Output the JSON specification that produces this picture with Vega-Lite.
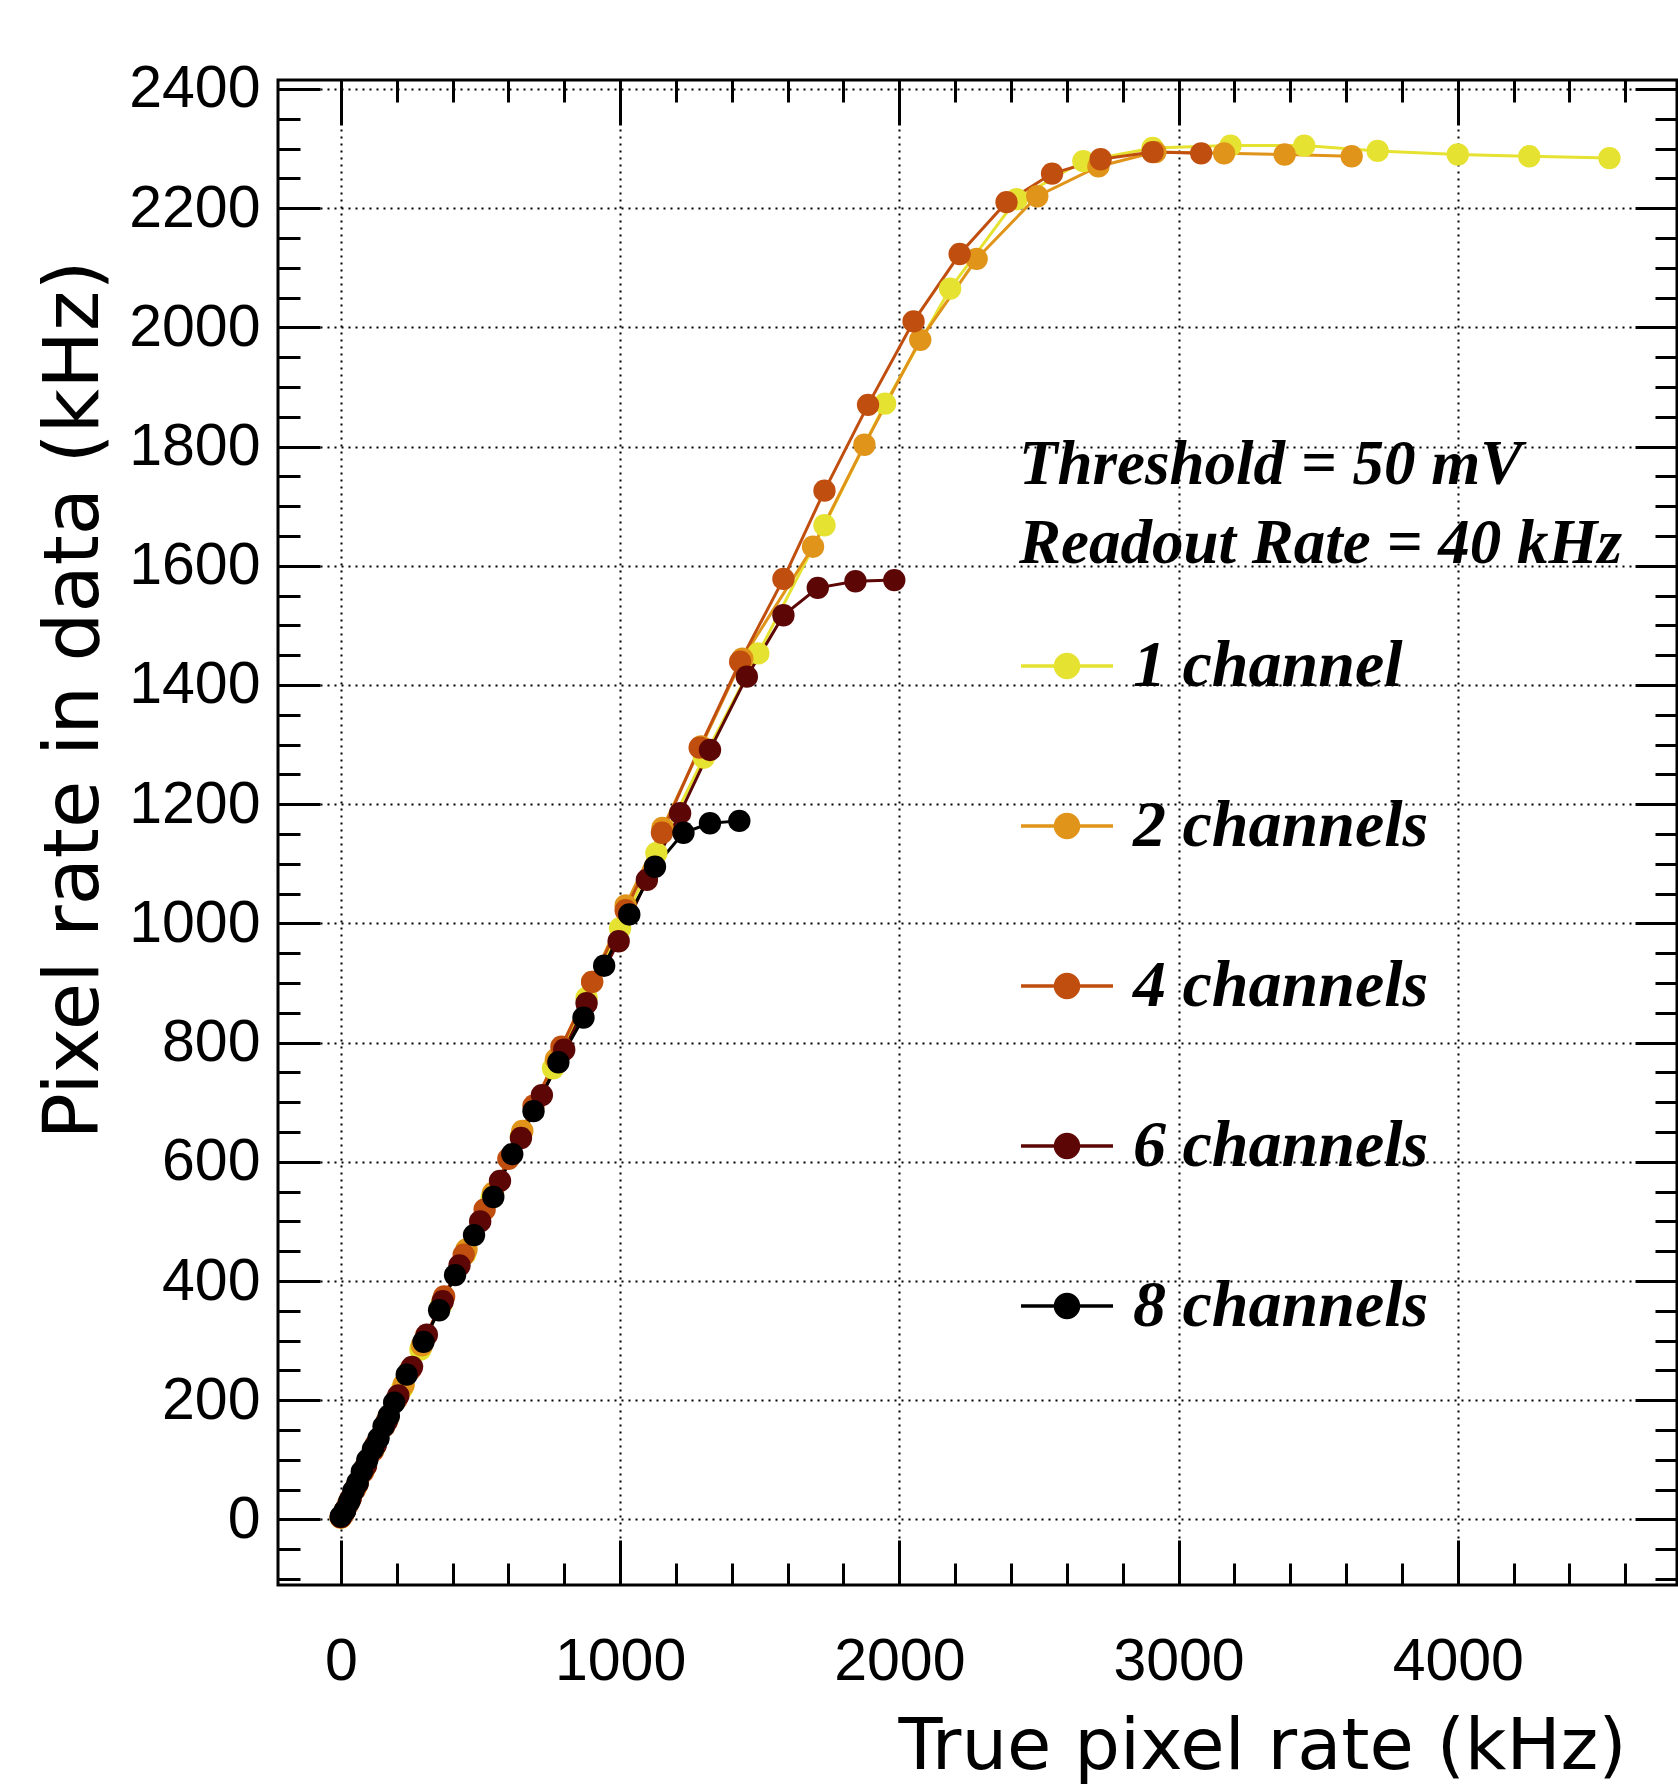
{
  "$schema": "https://vega.github.io/schema/vega-lite/v6.json",
  "autosize": {"type": "none"},
  "padding": {"left": 278, "top": 80, "right": 1, "bottom": 202},
  "width": 1399,
  "height": 1505,
  "background": "white",
  "config": {
    "view": {"stroke": "black", "strokeWidth": 3},
    "axis": {"labelFont": "Liberation Sans", "labelFontSize": 59, "labelColor": "black", "titleFont": "DejaVu Sans", "titleFontWeight": "normal", "titleColor": "black", "tickColor": "black", "tickWidth": 3, "domain": false, "labelOverlap": false, "labelFlush": false, "format": "d"}
  },
  "data": {"values": [
    {"s":"1 channel","x":0,"y":3},{"s":"1 channel","x":12,"y":12},{"s":"1 channel","x":30,"y":30},{"s":"1 channel","x":55,"y":55},{"s":"1 channel","x":85,"y":85},{"s":"1 channel","x":120,"y":120},{"s":"1 channel","x":165,"y":165},{"s":"1 channel","x":220,"y":220},{"s":"1 channel","x":285,"y":285},{"s":"1 channel","x":360,"y":360},{"s":"1 channel","x":445,"y":445},{"s":"1 channel","x":540,"y":540},{"s":"1 channel","x":645,"y":643},{"s":"1 channel","x":760,"y":757},{"s":"1 channel","x":880,"y":875},{"s":"1 channel","x":1000,"y":992},{"s":"1 channel","x":1130,"y":1118},{"s":"1 channel","x":1300,"y":1278},{"s":"1 channel","x":1495,"y":1453},{"s":"1 channel","x":1732,"y":1668},{"s":"1 channel","x":1949,"y":1872},{"s":"1 channel","x":2182,"y":2065},{"s":"1 channel","x":2420,"y":2215},{"s":"1 channel","x":2659,"y":2279},{"s":"1 channel","x":2907,"y":2301},{"s":"1 channel","x":3186,"y":2305},{"s":"1 channel","x":3450,"y":2305},{"s":"1 channel","x":3713,"y":2296},{"s":"1 channel","x":4000,"y":2290},{"s":"1 channel","x":4256,"y":2287},{"s":"1 channel","x":4543,"y":2284},
    {"s":"2 channels","x":0,"y":3},{"s":"2 channels","x":15,"y":15},{"s":"2 channels","x":35,"y":35},{"s":"2 channels","x":60,"y":60},{"s":"2 channels","x":90,"y":90},{"s":"2 channels","x":125,"y":126},{"s":"2 channels","x":170,"y":171},{"s":"2 channels","x":225,"y":226},{"s":"2 channels","x":290,"y":292},{"s":"2 channels","x":365,"y":368},{"s":"2 channels","x":450,"y":453},{"s":"2 channels","x":545,"y":548},{"s":"2 channels","x":650,"y":652},{"s":"2 channels","x":770,"y":772},{"s":"2 channels","x":900,"y":902},{"s":"2 channels","x":1020,"y":1030},{"s":"2 channels","x":1152,"y":1160},{"s":"2 channels","x":1290,"y":1297},{"s":"2 channels","x":1438,"y":1444},{"s":"2 channels","x":1691,"y":1632},{"s":"2 channels","x":1875,"y":1803},{"s":"2 channels","x":2075,"y":1979},{"s":"2 channels","x":2277,"y":2115},{"s":"2 channels","x":2494,"y":2220},{"s":"2 channels","x":2713,"y":2270},{"s":"2 channels","x":2917,"y":2294},{"s":"2 channels","x":3163,"y":2292},{"s":"2 channels","x":3380,"y":2290},{"s":"2 channels","x":3620,"y":2287},
    {"s":"4 channels","x":0,"y":4},{"s":"4 channels","x":8,"y":8},{"s":"4 channels","x":25,"y":25},{"s":"4 channels","x":50,"y":50},{"s":"4 channels","x":80,"y":80},{"s":"4 channels","x":115,"y":115},{"s":"4 channels","x":155,"y":156},{"s":"4 channels","x":200,"y":202},{"s":"4 channels","x":250,"y":252},{"s":"4 channels","x":305,"y":308},{"s":"4 channels","x":370,"y":374},{"s":"4 channels","x":440,"y":444},{"s":"4 channels","x":515,"y":520},{"s":"4 channels","x":600,"y":605},{"s":"4 channels","x":690,"y":694},{"s":"4 channels","x":790,"y":793},{"s":"4 channels","x":900,"y":902},{"s":"4 channels","x":1020,"y":1022},{"s":"4 channels","x":1150,"y":1152},{"s":"4 channels","x":1285,"y":1295},{"s":"4 channels","x":1430,"y":1439},{"s":"4 channels","x":1585,"y":1578},{"s":"4 channels","x":1732,"y":1726},{"s":"4 channels","x":1888,"y":1870},{"s":"4 channels","x":2051,"y":2010},{"s":"4 channels","x":2216,"y":2123},{"s":"4 channels","x":2384,"y":2210},{"s":"4 channels","x":2547,"y":2258},{"s":"4 channels","x":2721,"y":2282},{"s":"4 channels","x":2907,"y":2294},{"s":"4 channels","x":3081,"y":2292},
    {"s":"6 channels","x":0,"y":4},{"s":"6 channels","x":15,"y":15},{"s":"6 channels","x":35,"y":35},{"s":"6 channels","x":60,"y":60},{"s":"6 channels","x":90,"y":90},{"s":"6 channels","x":125,"y":125},{"s":"6 channels","x":165,"y":165},{"s":"6 channels","x":206,"y":208},{"s":"6 channels","x":255,"y":256},{"s":"6 channels","x":308,"y":310},{"s":"6 channels","x":365,"y":366},{"s":"6 channels","x":425,"y":426},{"s":"6 channels","x":499,"y":500},{"s":"6 channels","x":570,"y":568},{"s":"6 channels","x":645,"y":640},{"s":"6 channels","x":720,"y":712},{"s":"6 channels","x":800,"y":788},{"s":"6 channels","x":880,"y":866},{"s":"6 channels","x":995,"y":970},{"s":"6 channels","x":1096,"y":1073},{"s":"6 channels","x":1215,"y":1185},{"s":"6 channels","x":1322,"y":1291},{"s":"6 channels","x":1454,"y":1414},{"s":"6 channels","x":1585,"y":1517},{"s":"6 channels","x":1708,"y":1563},{"s":"6 channels","x":1843,"y":1574},{"s":"6 channels","x":1982,"y":1576},
    {"s":"8 channels","x":0,"y":5},{"s":"8 channels","x":15,"y":15},{"s":"8 channels","x":30,"y":30},{"s":"8 channels","x":45,"y":48},{"s":"8 channels","x":60,"y":62},{"s":"8 channels","x":75,"y":80},{"s":"8 channels","x":95,"y":100},{"s":"8 channels","x":115,"y":118},{"s":"8 channels","x":135,"y":136},{"s":"8 channels","x":153,"y":156},{"s":"8 channels","x":172,"y":174},{"s":"8 channels","x":191,"y":196},{"s":"8 channels","x":236,"y":243},{"s":"8 channels","x":296,"y":298},{"s":"8 channels","x":352,"y":351},{"s":"8 channels","x":409,"y":410},{"s":"8 channels","x":477,"y":477},{"s":"8 channels","x":546,"y":541},{"s":"8 channels","x":614,"y":613},{"s":"8 channels","x":690,"y":685},{"s":"8 channels","x":779,"y":767},{"s":"8 channels","x":869,"y":842},{"s":"8 channels","x":943,"y":929},{"s":"8 channels","x":1033,"y":1015},{"s":"8 channels","x":1125,"y":1095},{"s":"8 channels","x":1227,"y":1152},{"s":"8 channels","x":1322,"y":1168},{"s":"8 channels","x":1427,"y":1172}
  ]},
  "resolve": {"axis": {"x": "independent", "y": "independent"}},
  "layer": [
    {
      "mark": {"type": "line", "strokeWidth": 3},
      "encoding": {
        "x": {"field": "x", "type": "quantitative", "scale": {"domain": [-225, 4785], "nice": false, "zero": false},
          "axis": {"orient": "bottom", "values": [0, 1000, 2000, 3000, 4000], "tickSize": -45, "grid": true, "gridDash": [2, 5], "gridColor": "#000", "gridWidth": 2, "labelPadding": 92, "title": "True pixel rate (kHz)", "titleFontSize": 72, "titleX": 1348, "titleY": 183, "titleAlign": "right", "titleBaseline": "alphabetic"}},
        "y": {"field": "y", "type": "quantitative", "scale": {"domain": [-110, 2415], "nice": false, "zero": false},
          "axis": {"orient": "left", "values": [0, 200, 400, 600, 800, 1000, 1200, 1400, 1600, 1800, 2000, 2200, 2400], "tickSize": -42, "grid": true, "gridDash": [2, 5], "gridColor": "#000", "gridWidth": 2, "labelPadding": 60, "title": "Pixel rate in data (kHz)", "titleFontSize": 77, "titleAngle": 270, "titleX": -181, "titleY": 180, "titleAlign": "right", "titleBaseline": "alphabetic"}},
        "color": {"field": "s", "type": "nominal",
          "scale": {"domain": ["1 channel", "2 channels", "4 channels", "6 channels", "8 channels"], "range": ["#E6E232", "#E09419", "#C04E0E", "#5C0606", "#000000"]},
          "legend": {"orient": "none", "legendX": 741, "legendY": 354, "padding": 0, "offset": 0,
            "title": ["Threshold = 50 mV", "Readout Rate = 40 kHz"],
            "titleFont": "Liberation Serif", "titleFontStyle": "italic", "titleFontWeight": "bold", "titleFontSize": 63, "titleLineHeight": 79, "titleColor": "black", "titleLimit": 2000, "titlePadding": 42, "titleAlign": "left",
            "labelFont": "Liberation Serif", "labelFontStyle": "italic", "labelFontWeight": "bold", "labelFontSize": 66, "labelColor": "black", "labelLimit": 2000, "labelOffset": 18,
            "rowPadding": 79, "symbolSize": 8464, "symbolStrokeWidth": 3.5,
            "symbolType": "M-1,0L1,0M0.25,0A0.25,0.25,0,1,1,-0.25,0A0.25,0.25,0,1,1,0.25,0Z",
            "encode": {"symbols": {"update": {"fill": {"scale": "color", "field": "value"}, "stroke": {"scale": "color", "field": "value"}, "fillOpacity": {"value": 1}, "strokeOpacity": {"value": 1}, "opacity": {"value": 1}}}}}
        }
      }
    },
    {
      "mark": {"type": "point", "filled": true, "size": 500, "opacity": 1},
      "encoding": {
        "x": {"field": "x", "type": "quantitative", "scale": {"domain": [-225, 4785], "nice": false, "zero": false},
          "axis": {"orient": "top", "values": [0, 1000, 2000, 3000, 4000], "tickSize": -45, "grid": false, "labels": false, "title": null}},
        "y": {"field": "y", "type": "quantitative", "scale": {"domain": [-110, 2415], "nice": false, "zero": false},
          "axis": {"orient": "right", "values": [0, 200, 400, 600, 800, 1000, 1200, 1400, 1600, 1800, 2000, 2200, 2400], "tickSize": -42, "grid": false, "labels": false, "title": null}},
        "color": {"field": "s", "type": "nominal", "legend": null}
      }
    },
    {
      "mark": {"type": "point", "opacity": 0},
      "encoding": {
        "x": {"field": "x", "type": "quantitative", "scale": {"domain": [-225, 4785], "nice": false, "zero": false},
          "axis": {"orient": "bottom", "values": [200, 400, 600, 800, 1200, 1400, 1600, 1800, 2200, 2400, 2600, 2800, 3200, 3400, 3600, 3800, 4200, 4400, 4600], "tickSize": -22, "grid": false, "labels": false, "title": null}},
        "y": {"field": "y", "type": "quantitative", "scale": {"domain": [-110, 2415], "nice": false, "zero": false},
          "axis": {"orient": "left", "values": [-100, -50, 50, 100, 150, 250, 300, 350, 450, 500, 550, 650, 700, 750, 850, 900, 950, 1050, 1100, 1150, 1250, 1300, 1350, 1450, 1500, 1550, 1650, 1700, 1750, 1850, 1900, 1950, 2050, 2100, 2150, 2250, 2300, 2350], "tickSize": -22, "grid": false, "labels": false, "title": null}}
      }
    },
    {
      "mark": {"type": "point", "opacity": 0},
      "encoding": {
        "x": {"field": "x", "type": "quantitative", "scale": {"domain": [-225, 4785], "nice": false, "zero": false},
          "axis": {"orient": "top", "values": [200, 400, 600, 800, 1200, 1400, 1600, 1800, 2200, 2400, 2600, 2800, 3200, 3400, 3600, 3800, 4200, 4400, 4600], "tickSize": -22, "grid": false, "labels": false, "title": null}},
        "y": {"field": "y", "type": "quantitative", "scale": {"domain": [-110, 2415], "nice": false, "zero": false},
          "axis": {"orient": "right", "values": [-100, -50, 50, 100, 150, 250, 300, 350, 450, 500, 550, 650, 700, 750, 850, 900, 950, 1050, 1100, 1150, 1250, 1300, 1350, 1450, 1500, 1550, 1650, 1700, 1750, 1850, 1900, 1950, 2050, 2100, 2150, 2250, 2300, 2350], "tickSize": -22, "grid": false, "labels": false, "title": null}}
      }
    }
  ]
}
